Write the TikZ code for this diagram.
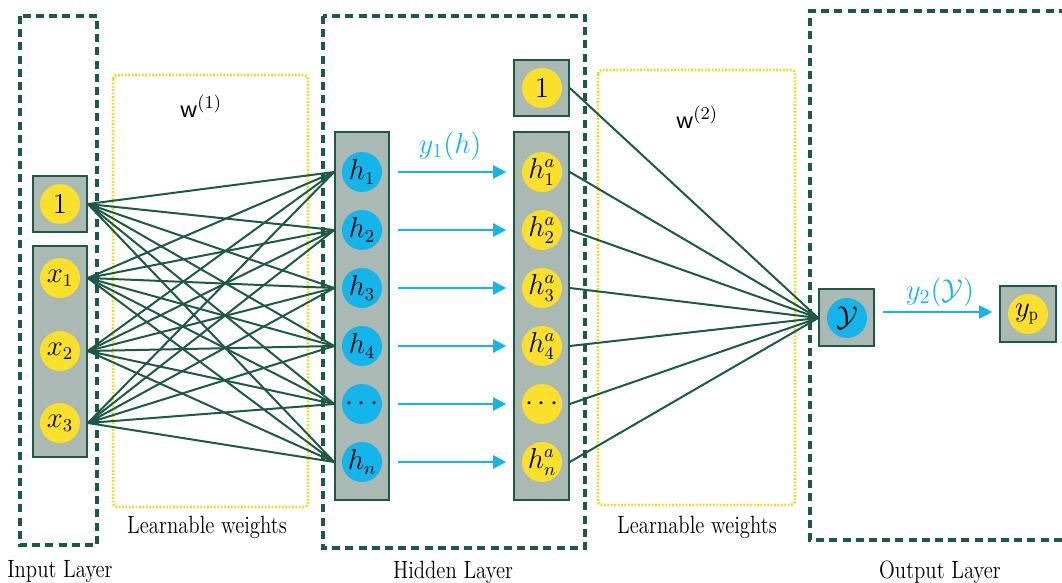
\documentclass[tikz,border=0pt]{standalone}
\usepackage{fontspec}
\setmainfont{Latin Modern Roman}[FakeStretch=0.83]
\usetikzlibrary{arrows.meta}
\definecolor{dgreen}{HTML}{1E5945}
\definecolor{gfill}{HTML}{AAB9B3}
\definecolor{ycirc}{HTML}{FAE02A}
\definecolor{bcirc}{HTML}{13B5EA}
\definecolor{ydot}{HTML}{F0D82A}
\begin{document}
\begin{tikzpicture}[x=0.5pt,y=-0.5pt,
  font=\fontsize{12.5}{14}\selectfont,
  layerbox/.style={draw=dgreen, line width=2pt, dash pattern=on 4pt off 2.6pt},
  wbox/.style={draw=ydot, line width=1.4pt, dash pattern=on 0.9pt off 0.8pt, rounded corners=2pt},
  colbox/.style={draw=dgreen, fill=gfill, line width=0.8pt, inner sep=0pt},
  ynode/.style={circle, fill=ycirc, minimum size=20pt, inner sep=0pt, font=\fontsize{13.5}{15}\selectfont},
  bnode/.style={circle, fill=bcirc, minimum size=20pt, inner sep=0pt, font=\fontsize{13.5}{15}\selectfont},
  conn/.style={dgreen, line width=1pt},
  flow/.style={bcirc, line width=1.2pt, -{Triangle[length=6.5pt,width=6.5pt]}, shorten <=4pt, shorten >=3.5pt},
  lbl/.style={inner sep=0pt}
]
\useasboundingbox (0,0) rectangle (1062,583);

% layer frames
\draw[layerbox] (20,16) rectangle (97,545);
\draw[layerbox] (323,16) rectangle (585,548);
\draw[layerbox] (1080,11) -- (810,11) -- (810,540) -- (1080,540);

% weight frames
\draw[wbox] (113,75) rectangle (308,507);
\draw[wbox] (598,70) rectangle (795,505);

% column boxes
\node[colbox, minimum width=27pt, minimum height=28pt] (in1box) at (60,204) {};
\node[colbox, minimum width=27pt, minimum height=105.5pt] (inxbox) at (60,351.5) {};
\node[colbox, minimum width=27pt, minimum height=184pt] (hbox) at (362,316) {};
\node[colbox, minimum width=27.5pt, minimum height=184pt] (habox) at (541.5,316) {};
\node[colbox, minimum width=27.5pt, minimum height=28pt] (onebox) at (541.5,88) {};
\node[colbox, minimum width=27.5pt, minimum height=28.5pt] (ybox) at (846.5,317.5) {};
\node[colbox, minimum width=28pt, minimum height=28pt] (ypbox) at (1028,314) {};

% input nodes
\node[ynode] (i0) at (60,204) {$1$};
\node[ynode] (i1) at (60,278) {$x_1$};
\node[ynode] (i2) at (60,351) {$x_2$};
\node[ynode] (i3) at (60,423) {$x_3$};

% hidden nodes
\node[bnode] (h1) at (362,172) {$h_1$};
\node[bnode] (h2) at (362,230) {$h_2$};
\node[bnode] (h3) at (362,288) {$h_3$};
\node[bnode] (h4) at (362,346) {$h_4$};
\node[bnode] (h5) at (362,404) {$\cdots$};
\node[bnode] (h6) at (362,462) {$h_n$};

\node[ynode] (a0) at (542,88) {$1$};
\node[ynode] (a1) at (542,172) {$h^a_1$};
\node[ynode] (a2) at (542,230) {$h^a_2$};
\node[ynode] (a3) at (542,288) {$h^a_3$};
\node[ynode] (a4) at (542,346) {$h^a_4$};
\node[ynode] (a5) at (542,404) {$\cdots$};
\node[ynode] (a6) at (542,462) {$h^a_n$};

% output nodes
\node[bnode] (Y) at (847,318) {$\mathcal{Y}$};
\node[ynode] (yp) at (1028,314) {$y_{\mathrm{p}}$};

% input -> hidden connections
\foreach \h in {1,...,6}{
  \draw[conn] (i0 -| in1box.east) -- (h\h -| hbox.west);
  \foreach \i in {1,2,3}{
    \draw[conn] (i\i -| inxbox.east) -- (h\h -| hbox.west);
  }
}

% hidden -> output connections
\draw[conn] (a0 -| onebox.east) -- (Y -| ybox.west);
\foreach \a in {1,...,6}{
  \draw[conn] (a\a -| habox.east) -- (Y -| ybox.west);
}

% activation arrows
\foreach \k in {1,...,6}{
  \draw[flow] (h\k -| hbox.east) -- (a\k -| habox.west);
}
\draw[flow] ([yshift=1pt]yp -| ybox.east) -- ([yshift=1pt]yp -| ypbox.west);

% labels
\node[lbl, text=bcirc, font=\fontsize{14}{15}\selectfont] (y1lbl) at (450,146) {$y_1(h)$};
\node[lbl, text=bcirc, font=\fontsize{14}{15}\selectfont] (y2lbl) at (940,292) {$y_2(\mathcal{Y})$};
\node[lbl, font=\fontsize{13}{15}\selectfont] (w1) at (201,106) {$\mathsf{w}^{(1)}$};
\node[lbl, font=\fontsize{13}{15}\selectfont] (w2) at (697,117) {$\mathsf{w}^{(2)}$};
\node[lbl] (lw1) at (207,527) {Learnable weights};
\node[lbl] (lw2) at (697,527) {Learnable weights};
\node[lbl] (il) at (60,572) {Input Layer};
\node[lbl] (hl) at (453,572) {Hidden Layer};
\node[lbl] (ol) at (940,572) {Output Layer};
\end{tikzpicture}
\end{document}
